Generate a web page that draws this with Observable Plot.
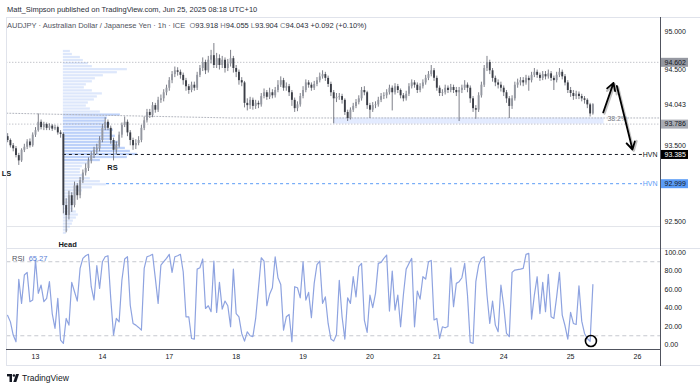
<!DOCTYPE html>
<html><head><meta charset="utf-8">
<script src="https://cdn.jsdelivr.net/npm/d3@7"></script>
<script src="https://cdn.jsdelivr.net/npm/@observablehq/plot@0.6"></script>
<style>
html,body{margin:0;padding:0;background:#fff;}
#wrap{position:relative;width:700px;height:388px;overflow:hidden;font-family:"Liberation Sans",Arial,sans-serif;color:#131722;}
.abs{position:absolute;white-space:nowrap;}
.line{position:absolute;}
</style></head>
<body><div id="wrap"></div>
<script>
// ---------------- DATA ----------------
const FIRST_BAR = -10;        // bar index of first candle (bar 0 = Jun 13 00:00)
const FIRST_OPEN = 93.62;
const closes = [
93.57,93.50,93.46,93.37,93.30,93.44,93.48,93.55,93.50,93.64,
93.70,93.81,93.74,93.78,93.73,93.76,93.72,93.74,93.67,93.65,
92.71,92.58,92.84,92.71,92.97,92.84,93.04,93.14,93.20,93.30,
93.37,93.44,93.46,93.57,93.73,93.81,93.73,93.57,93.44,93.50,
93.64,93.77,93.81,93.67,93.57,93.50,93.53,93.57,93.73,93.83,
93.94,93.90,94.03,93.97,94.10,94.12,94.20,94.26,94.36,94.44,
94.49,94.47,94.43,94.36,94.28,94.23,94.30,94.26,94.43,94.52,
94.60,94.49,94.63,94.69,94.56,94.65,94.56,94.63,94.52,94.58,
94.65,94.52,94.47,94.36,94.33,94.06,94.03,94.10,94.02,94.06,
94.04,94.15,94.20,94.14,94.20,94.16,94.23,94.30,94.36,94.26,
94.28,94.20,94.10,93.99,94.04,94.15,94.23,94.33,94.30,94.26,
94.31,94.36,94.41,94.44,94.39,94.31,94.20,94.12,94.14,94.15,
94.10,93.94,93.86,93.97,94.02,94.07,94.12,94.23,94.20,94.03,
93.97,94.03,94.04,94.10,94.15,94.16,94.20,94.26,94.20,94.28,
94.23,94.16,94.12,94.18,94.28,94.33,94.30,94.23,94.28,94.33,
94.39,94.44,94.49,94.39,94.26,94.19,94.20,94.26,94.23,94.27,
94.23,94.20,94.23,94.26,94.30,94.26,94.12,93.99,93.97,94.16,
94.30,94.52,94.60,94.49,94.39,94.33,94.30,94.26,94.20,94.12,
94.02,94.12,94.30,94.33,94.36,94.33,94.39,94.36,94.43,94.47,
94.43,94.39,94.44,94.41,94.45,94.39,94.36,94.43,94.47,94.41,
94.33,94.23,94.19,94.15,94.18,94.15,94.12,94.10,94.04,93.92,
94.043];
const highs = [
93.66,93.59,93.53,93.49,93.40,93.46,93.52,93.58,93.59,93.67,
93.74,93.92,93.84,93.81,93.80,93.79,93.78,93.77,93.76,93.70,
93.67,92.80,92.90,92.88,93.02,93.00,93.08,93.18,93.26,93.34,
93.42,93.48,93.52,93.62,93.78,93.87,93.84,93.76,93.60,93.55,
93.68,93.80,93.88,93.84,93.70,93.60,93.58,93.62,93.77,93.88,
93.98,93.98,94.07,94.06,94.14,94.17,94.24,94.30,94.40,94.48,
94.54,94.53,94.50,94.46,94.39,94.31,94.34,94.34,94.47,94.56,
94.66,94.63,94.68,94.76,94.85,94.72,94.70,94.68,94.66,94.64,
94.76,94.68,94.56,94.50,94.40,94.35,94.12,94.14,94.13,94.10,
94.09,94.19,94.25,94.23,94.26,94.24,94.27,94.36,94.41,94.39,
94.33,94.31,94.23,94.13,94.08,94.19,94.28,94.37,94.36,94.33,
94.35,94.40,94.46,94.49,94.47,94.42,94.34,94.23,94.19,94.19,
94.18,94.12,93.97,94.00,94.06,94.11,94.16,94.27,94.28,94.22,
94.06,94.07,94.08,94.14,94.19,94.20,94.24,94.30,94.29,94.32,
94.31,94.25,94.19,94.22,94.32,94.37,94.36,94.33,94.32,94.37,
94.43,94.48,94.56,94.52,94.42,94.29,94.24,94.30,94.29,94.31,
94.30,94.27,94.27,94.30,94.36,94.33,94.29,94.15,94.03,94.20,
94.34,94.56,94.68,94.63,94.52,94.42,94.37,94.34,94.29,94.23,
94.15,94.16,94.34,94.38,94.40,94.40,94.43,94.42,94.47,94.52,
94.50,94.46,94.48,94.48,94.50,94.48,94.42,94.47,94.52,94.50,
94.44,94.36,94.27,94.23,94.22,94.21,94.18,94.15,94.12,94.06,
94.055];
const lows = [
93.54,93.47,93.42,93.34,93.24,93.28,93.41,93.45,93.47,93.48,
93.61,93.68,93.71,93.70,93.70,93.70,93.69,93.70,93.64,93.60,
92.60,92.35,92.52,92.62,92.68,92.78,92.80,93.00,93.10,93.16,
93.26,93.33,93.38,93.42,93.54,93.70,93.70,93.52,93.30,93.38,
93.47,93.60,93.74,93.62,93.50,93.44,93.45,93.50,93.54,93.70,
93.80,93.86,93.87,93.93,93.94,94.06,94.08,94.16,94.22,94.32,
94.40,94.42,94.38,94.30,94.22,94.18,94.20,94.22,94.23,94.40,
94.48,94.44,94.46,94.58,94.52,94.52,94.50,94.52,94.46,94.48,
94.54,94.46,94.40,94.30,94.28,94.00,93.96,93.98,93.97,93.98,
93.99,94.01,94.12,94.10,94.11,94.12,94.13,94.20,94.27,94.22,
94.22,94.15,94.02,93.94,93.95,94.01,94.12,94.20,94.26,94.22,
94.23,94.28,94.33,94.38,94.35,94.27,94.15,93.79,94.07,94.10,
94.05,93.90,93.82,93.84,93.94,93.99,94.04,94.09,94.16,93.98,
93.86,93.94,93.99,94.01,94.07,94.11,94.12,94.17,93.96,94.17,
94.19,94.12,94.08,94.09,94.15,94.25,94.26,94.19,94.20,94.25,
94.30,94.36,94.41,94.35,94.22,94.15,94.15,94.17,94.19,94.20,
94.19,94.15,93.82,94.19,94.23,94.20,94.06,93.94,93.85,93.94,
94.13,94.27,94.48,94.44,94.34,94.28,94.25,94.21,94.15,94.06,
93.86,93.98,94.09,94.26,94.29,94.28,94.30,94.22,94.33,94.40,
94.39,94.35,94.36,94.37,94.38,94.35,94.23,94.33,94.40,94.37,
94.29,94.19,94.14,94.10,94.11,94.11,94.08,94.05,93.99,93.88,
93.904];
const rsi = [
32,25,10.7,3.5,71,45,75.6,78.5,46.8,48.6,
91.8,55.9,64.8,46.8,50.4,68.4,34,18,50.4,5.3,
1.7,28.7,21.5,67.7,57.6,47.5,82.8,93.6,96.5,98,
63,48.6,85.7,61.2,90,95.4,96.5,50.4,10.7,28.7,
25,70,93,95.4,43,23.3,21.5,19,16,82.8,
95.4,96.5,98,72,45,86.4,90,93.6,98,78.5,
95.4,96.5,98,79.2,30.5,30.5,7,6.4,82,83.5,
93,39.5,42.4,36,90.7,35.2,67.7,38.8,47.5,42.4,
19.7,82,34,30.5,12.5,4.2,14.3,10,9,28.7,
61.2,94.3,90.7,42.4,54.8,61.9,95.4,72.7,65.5,16,
30.5,33,3.5,63,61.9,51,90,48.6,56.9,29.5,
66.6,87,90.7,45,52,23.3,6.4,4.2,11.4,70,
30.5,6.4,51,45,73.8,52,84.6,88.2,27,13.6,
54,40.3,55.8,88.2,89.3,93.6,97.2,36.7,80,37.8,
54,19.7,54,82,88.2,93.6,19.7,58.3,49.6,73.8,
71.3,90,91.4,27,28.7,7.1,19.7,18.6,20,83.5,
41.4,66.6,68.4,72.7,88.2,54,2.8,1.7,68.4,86.4,
93.6,95.4,54,23.3,47.5,21.5,14.3,64.8,42.4,12.5,
9,78.5,81,81.5,82,82.8,98,99,28,54,
73.8,34,67.7,36,76.3,30.5,28.7,52,78.5,32.3,
20.8,6.4,35.2,23.3,22.2,64,25.8,12.5,7,4,
65.27];
// volume profile (top row first), relative volume per price row
const PROFILE_TOP = 94.765, PROFILE_BIN = 0.04, PROFILE_ANCHOR_BAR = 10;
const profileVol = [7,9,17,20,25,29,64,54,40,32,29,23,21,29,39,34,31,25,23,27,37,57,44,42,47,45,50,47,52,49,55,57,62,67,74,64,37,25,19,17,17,21,27,37,43,29,19,15,13,12,11,10,10,13,15,13,10,9,7,5,3];
const valueArea = [93.30, 93.93];
// x axis
const dayTicks = [0,24,48,72,96,120,144,168,192,216];
const dayLabels = ["13","14","17","18","19","20","21","24","25","26"];
const priceTicks = [95, 94.5, 93.5, 93, 92.5];
const rsiTicks = [0,20,40,60,80,100];
// price levels / annotations
const priceLabels = [
  {p: 94.602, bg: "#9598a1", fg: "#131722"},
  {p: 93.786, bg: "#a9acb4", fg: "#131722"},
  {p: 93.385, bg: "#000000", fg: "#ffffff"},
  {p: 92.999, bg: "#5b9cf6", fg: "#131722"}
];
const lastPrice = 94.043;
const dottedLevels = [94.602, 93.786];
const fibLine = [{x: -10.3, y: 93.93}, {x: 70, y: 93.867}, {x: 224.26, y: 93.867}];
const zone = [{x1: 107, x2: 204, y1: 93.786, y2: 93.867}];
const faintLevel = 92.433;
const hvnLines = [{p: 93.385, x1: 10, color: "#131722"}, {p: 92.999, x1: 25.5, color: "#5b9cf6"}];
const HVN_END = 217.8;
const shapeLabels = [{x: -10.4, y: 93.133, t: "LS", a: "start"}, {x: 27.6, y: 93.213, t: "RS", a: "middle"}, {x: 11.5, y: 92.195, t: "Head", a: "middle"}];
const fibText = {x: 205.2, y: 93.86, t: "38.2%"};
const arrows = [{x1: 203.7, y1: 93.94, x2: 207.4, y2: 94.33}, {x1: 208.6, y1: 94.29, x2: 214.2, y2: 93.45}];
const rsiCircle = [{x: 199.3, y: 4.3}];
const rsiLevels = [90, 10];
const header1 = "Matt_Simpson published on TradingView.com, Jun 25, 2025 08:18 UTC+10";
const headerSym = "AUDJPY · Australian Dollar / Japanese Yen · 1h · ICE";
const headerOHLC = [["O","93.918"],["H","94.055"],["L","93.904"],["C","94.043"]];
const headerChg = "+0.092 (+0.10%)";

// ---------------- LAYOUT CONSTANTS ----------------
const FONT = '"Liberation Sans", Arial, sans-serif';
const X_DOMAIN = [-12.56, 224.26];
const X_BOX_END = 234.3;

const bars = closes.map((c, i) => ({
  x: FIRST_BAR + i, o: i ? closes[i - 1] : FIRST_OPEN, h: highs[i], l: lows[i], c
}));
bars.forEach(b => b.up = b.c >= b.o);
const rsiData = rsi.map((v, i) => ({x: FIRST_BAR + i, v}));
const profile = profileVol.map((v, k) => {
  const top = PROFILE_TOP - k * PROFILE_BIN, bot = top - PROFILE_BIN, mid = (top + bot) / 2;
  return {y1: bot, y2: top, x1: PROFILE_ANCHOR_BAR, x2: PROFILE_ANCHOR_BAR + v / 2.787,
          va: mid >= valueArea[0] && mid <= valueArea[1]};
});
const labelMap = new Map(dayTicks.map((d, i) => [d, dayLabels[i]]));

const wrap = document.getElementById("wrap");
function add(html) { wrap.insertAdjacentHTML("beforeend", html); }

// header
add(`<div class="abs" style="left:7px;top:4.5px;font-size:7.5px;line-height:9px;color:#2a2e39">${header1}</div>`);
add(`<div class="abs" style="left:7px;top:20.5px;font-size:7.5px;line-height:9px;color:#50535e">${headerSym}&nbsp;&nbsp;` +
  headerOHLC.map(([k, v]) => `<span style="color:#787b86">${k}</span><span style="color:#2a2e39">${v}</span>`).join("&nbsp;") +
  `&nbsp;<span style="color:#2a2e39">${headerChg}</span></div>`);

// ---------------- PRICE PANEL ----------------
const price = Plot.plot({
  width: 700, height: 231, marginLeft: 0, marginRight: 40, marginTop: 0, marginBottom: 0,
  x: {domain: X_DOMAIN, axis: null},
  y: {domain: [92.143, 95.194]},
  style: {fontSize: "7px", fontFamily: FONT, background: "transparent", overflow: "visible", color: "#131722"},
  marks: [
    Plot.ruleY([faintLevel], {x1: -10.3, x2: X_DOMAIN[1], stroke: "#e3e5ea", strokeWidth: 1}),
    Plot.rect(zone, {x1: "x1", x2: "x2", y1: "y1", y2: "y2", fill: "#2962ff", fillOpacity: 0.13}),
    Plot.rect(profile, {x1: "x1", x2: "x2", y1: "y1", y2: "y2", insetTop: 0.4, insetBottom: 0.4,
      fill: d => d.va ? "#5b8def" : "#8fb0f3", fillOpacity: d => d.va ? 0.4 : 0.3}),
    Plot.ruleY(dottedLevels, {x1: -10.3, x2: X_DOMAIN[1], stroke: "#a9acb4", strokeWidth: 1, strokeDasharray: "1,2"}),
    Plot.line(fibLine, {x: "x", y: "y", stroke: "#b2b5be", strokeWidth: 1, strokeDasharray: "1,2"}),
    Plot.ruleY(hvnLines, {y: "p", x1: "x1", x2: HVN_END, stroke: d => d.color, strokeWidth: 1, strokeDasharray: "3,3"}),
    Plot.ruleX(bars, {x: "x", y1: "l", y2: "h", stroke: "#5d606b", strokeWidth: 0.8}),
    Plot.ruleX(bars, {x: "x", y1: "o", y2: "c", stroke: d => d.up ? "#9598a1" : "#3b3e46", strokeWidth: 1.9}),
    Plot.text(shapeLabels, {x: "x", y: "y", text: "t", textAnchor: "a", fontSize: 7.5, fontWeight: 700, fill: "#131722"}),
    Plot.text([fibText], {x: "x", y: "y", text: "t", textAnchor: "start", fontSize: 7, fill: "#787b86"}),
    Plot.text(hvnLines, {x: 223.2, y: "p", text: () => "HVN", textAnchor: "end", fontSize: 7, fill: d => d.color}),
    Plot.arrow(arrows, {x1: "x1", y1: "y1", x2: "x2", y2: "y2", stroke: "#8a8a8a", strokeOpacity: 0.5, strokeWidth: 2.2, headLength: 7, dx: 1.3, dy: 1.3}),
    Plot.arrow(arrows, {x1: "x1", y1: "y1", x2: "x2", y2: "y2", stroke: "#000", strokeWidth: 1.8, headLength: 7}),
    Plot.axisY({anchor: "right", ticks: priceTicks, tickFormat: d3.format(".3f"), tickSize: 0, tickPadding: 4, fontSize: 7, fill: "#131722", label: null}),
    Plot.text([lastPrice], {y: d => d, frameAnchor: "right", dx: 4, text: d => d3.format(".3f")(d), textAnchor: "start", fontSize: 7, fill: "#131722"}),
    Plot.ruleY(priceLabels, {y: "p", x1: X_DOMAIN[1], x2: X_BOX_END, stroke: "bg", strokeWidth: 9}),
    Plot.text(priceLabels, {y: "p", frameAnchor: "right", dx: 4, text: d => d3.format(".3f")(d.p), textAnchor: "start", fontSize: 7, fill: "fg"})
  ]
});
price.style.position = "absolute"; price.style.left = "0px"; price.style.top = "17px";
wrap.appendChild(price);

// ---------------- RSI PANEL ----------------
const rsiPlot = Plot.plot({
  width: 700, height: 118, marginLeft: 0, marginRight: 40, marginTop: 0, marginBottom: 17,
  x: {domain: X_DOMAIN},
  y: {domain: [-4.86, 104.3]},
  style: {fontSize: "7px", fontFamily: FONT, background: "transparent", overflow: "visible", color: "#131722"},
  marks: [
    Plot.ruleY(rsiLevels, {x1: -10.3, x2: X_DOMAIN[1], stroke: "#b8bbc3", strokeWidth: 0.8, strokeDasharray: "4,3"}),
    Plot.line(rsiData, {x: "x", y: "v", stroke: "#8ea3e0", strokeWidth: 1.2}),
    Plot.dot(rsiCircle, {x: "x", y: "y", r: 5.5, stroke: "#000", strokeWidth: 1.6, fill: "none"}),
    Plot.axisY({anchor: "right", ticks: rsiTicks, tickFormat: d3.format(".2f"), tickSize: 0, tickPadding: 4, fontSize: 7, fill: "#131722", label: null}),
    Plot.axisX({anchor: "bottom", ticks: dayTicks, tickFormat: d => labelMap.get(d), tickSize: 0, tickPadding: 4.5, fontSize: 7, fill: "#131722", label: null})
  ]
});
rsiPlot.style.position = "absolute"; rsiPlot.style.left = "0px"; rsiPlot.style.top = "248px";
wrap.appendChild(rsiPlot);

add(`<div class="abs" style="left:12px;top:253.5px;font-size:7.5px;line-height:9px;color:#50535e">RSI&nbsp;&nbsp;<span style="color:#5b7fd6">${rsi[rsi.length-1].toFixed(2)}</span></div>`);

// frame lines
add(`<div class="line" style="left:6px;top:17px;width:694px;height:1px;background:#e0e3eb"></div>`);
add(`<div class="line" style="left:6px;top:17px;width:1px;height:349px;background:#e0e3eb"></div>`);
add(`<div class="line" style="left:6px;top:365px;width:694px;height:1px;background:#e0e3eb"></div>`);
add(`<div class="line" style="left:6px;top:248px;width:694px;height:1px;background:#e0e3eb"></div>`);
add(`<div class="line" style="left:660px;top:17px;width:1px;height:349px;background:#50535e"></div>`);
add(`<div class="line" style="left:6px;top:349px;width:655px;height:1px;background:#50535e"></div>`);

// footer logo
add(`<div class="abs" style="left:7px;top:372.5px;height:10px;display:flex;align-items:center;gap:3px">
<svg width="12" height="8" viewBox="0 0 12 8"><rect x="0" y="0" width="5" height="2.4" fill="#131722"/><rect x="2.5" y="0" width="2.5" height="8" fill="#131722"/><circle cx="6.9" cy="1.5" r="1.3" fill="#131722"/><polygon points="9,0 12,0 9.3,8 6.3,8" fill="#131722"/></svg>
<span style="font-size:8.5px;color:#131722">TradingView</span></div>`);
</script>
</body></html>
